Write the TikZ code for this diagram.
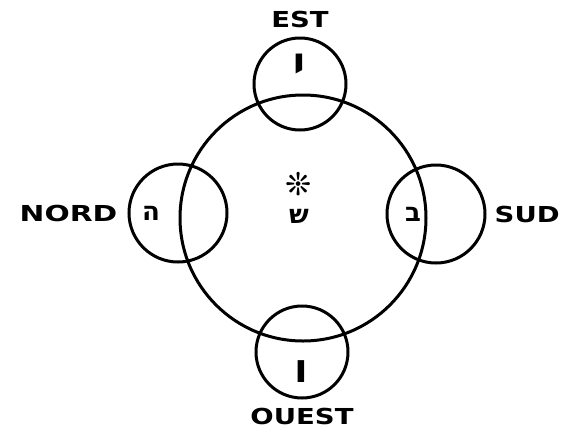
\documentclass[tikz,border=0pt]{standalone}
\usepackage{fontspec}
\setmainfont{DejaVu Sans}
\newfontfamily\hebfont[Script=Hebrew]{DejaVu Sans}
\newfontfamily\symfont{DejaVu Sans}
\TeXXeTstate=1
\usetikzlibrary{positioning}
\tikzset{
  ring/.style={circle, draw=black, line width=3pt, inner sep=0pt,
               minimum size=#1},
  dirlbl/.style={font=\fontsize{22}{22}\selectfont\bfseries, inner sep=0pt},
  heb/.style={font=\hebfont\fontsize{26}{26}\selectfont\bfseries, inner sep=0pt},
  hebbig/.style={heb, font=\hebfont\fontsize{40}{40}\selectfont\bfseries}
}
\newcommand{\wide}[1]{\scalebox{1.25}[1]{#1}}

\begin{document}
\begin{tikzpicture}[x=1pt, y=-1pt]
\useasboundingbox (0,0) rectangle (571,440);
% central ring and the four small rings
\node[ring=246pt] (outer) at (303,218) {};
\node[ring=92pt]  (east)  at (300,84)  {};
\node[ring=98pt]  (north) at (178,213) {};
\node[ring=98pt]  (south) at (436,214) {};
\node[ring=92pt]  (west)  at (302,352) {};
% directions
\node[dirlbl, above=8pt of east]  (estlbl)   {\wide{EST}};
\node[dirlbl, left=10pt of north] (nordlbl)  {\scalebox{1.35}[1]{NORD}};
\node[dirlbl, right=8pt of south] (sudlbl)   {\wide{SUD}};
\node[dirlbl, below=8pt of west]  (ouestlbl) {\wide{OUEST}};
% letters
\node[hebbig] (yod) at (299,68) {\scalebox{1}[1.3]{\beginR י\endR}};
\node[heb] (he)   at (151,213) {\beginR ה\endR};
\node[heb] (bet)  at (413,214) {\beginR ב\endR};
\node[hebbig] (vav) at (301,372) {\beginR ו\endR};
\node[font=\symfont\fontsize{26}{26}\selectfont\bfseries, inner sep=0pt] (star) at (299,184) {\scalebox{1.2}{❊}};
\node[heb] (shin) at (299,216) {\beginR ש\endR};
\end{tikzpicture}
\end{document}
